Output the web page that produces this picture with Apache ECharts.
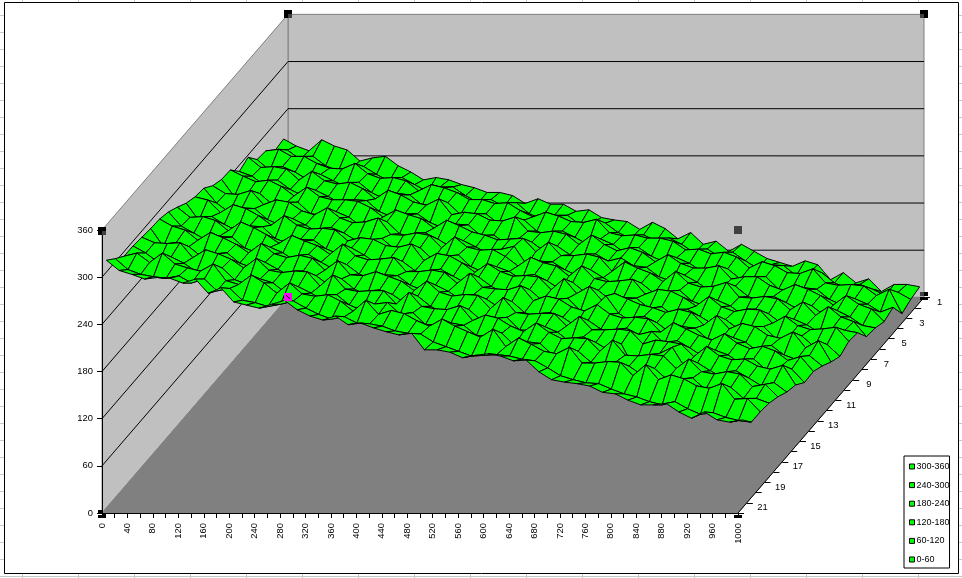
<!DOCTYPE html>
<html>
<head>
<meta charset="utf-8">
<style>html,body{margin:0;padding:0;background:#fff}#c{width:962px;height:578px}</style>
<script src="https://cdn.jsdelivr.net/npm/echarts@6/dist/echarts.min.js"></script>
</head>
<body>
<div id="c"></div>
<script>
const legendNames = ['300-360','240-300','180-240','120-180','60-120','0-60'];
const depthLabels = ['1','','3','','5','','7','','9','','11','','13','','15','','17','','19','','21'];
const xTickStep = 20, xLabelStep = 40, xMax = 1000;
const yStep = 60, yMax = 360;
const row01 = [208,199,193,207,199,194,180,184,186,174,166,156,159,156,150,146,140,140,136,126,132,125,125,116,118,108,105,103,93,102,94,81,89,74,78,65,74,65,56,51,46,53,48,29,38,25,30,14,23,23,20];
const row02 = [206,207,195,199,187,180,184,186,176,167,172,163,154,160,160,149,140,144,135,140,126,119,124,124,112,115,114,102,94,99,91,95,87,76,81,71,77,66,56,61,60,47,50,51,38,31,36,30,22,26,17];
const row03 = [219,221,212,212,203,197,196,203,190,184,185,181,168,176,172,166,157,157,152,153,143,135,141,136,129,128,132,115,111,112,108,108,104,93,94,88,90,84,70,78,73,64,63,69,51,48,49,47,35,43,12];
const row04 = [221,207,212,205,195,202,194,186,192,179,171,178,176,163,163,166,151,150,152,139,143,144,130,123,130,122,113,120,113,101,109,98,91,96,89,78,83,82,69,68,72,56,55,58,56,43,36,44,37,27,33];
const row05 = [237,224,225,222,208,219,207,203,205,197,184,195,189,180,176,184,164,167,165,157,156,161,143,141,143,139,126,138,126,118,122,116,104,113,102,96,96,99,82,85,85,74,68,75,69,61,49,61,50,44,28];
const row06 = [232,226,214,221,209,201,208,200,191,196,195,181,174,178,178,167,160,165,164,150,151,140,147,142,130,137,126,120,127,118,122,112,110,98,92,100,91,80,86,86,73,66,73,65,56,61,49,55,47,36,33];
const row07 = [247,239,232,234,226,214,225,213,209,209,207,199,187,196,190,185,173,183,176,168,164,158,159,160,143,155,138,138,140,136,118,130,122,116,105,118,103,98,99,104,85,84,86,83,69,79,62,73,60,54,35];
const row08 = [248,226,229,230,216,217,219,204,203,207,200,188,194,194,179,173,180,172,162,170,162,153,159,163,139,144,143,133,125,133,123,113,119,116,103,103,107,93,87,94,87,75,83,77,65,70,63,53,58,56,53];
const row09 = [253,243,242,247,229,235,232,221,216,225,212,206,207,212,191,190,193,190,174,188,175,171,172,163,151,162,155,151,138,151,135,131,132,134,115,121,119,111,100,112,99,93,96,95,78,87,75,70,71,73,55];
const row10 = [263,244,232,238,237,223,216,224,216,206,213,206,196,195,199,185,188,187,172,175,178,163,156,163,157,146,153,145,134,143,130,133,120,124,123,110,112,100,109,100,90,96,84,86,87,71,73,75,61,64,49];
const row11 = [265,261,245,255,250,241,229,241,229,224,225,223,209,213,211,203,201,205,184,193,190,181,169,180,170,164,165,163,147,161,142,151,133,142,135,128,124,118,122,118,102,114,97,104,100,89,85,93,73,82,55];
const row12 = [270,248,253,243,235,241,240,225,219,224,223,212,205,213,204,193,199,196,184,178,186,177,168,176,164,156,161,160,146,147,149,133,133,152,130,119,126,118,106,113,111,97,96,99,93,80,89,77,71,76,63];
const row13 = [278,265,266,261,248,259,252,243,232,242,235,229,218,231,216,211,212,214,196,196,198,195,181,194,176,174,173,178,159,165,161,151,146,154,142,137,138,136,119,131,123,115,109,117,105,98,101,95,83,88,69];
const row14 = [285,267,258,249,254,253,239,233,240,233,222,231,221,212,218,206,199,205,204,192,185,192,184,173,180,174,163,171,157,150,157,151,140,147,136,130,137,129,133,117,121,112,101,109,103,92,98,84,86,85,68];
const row15 = [289,280,275,262,272,265,257,246,258,245,240,243,239,224,236,218,217,222,216,210,198,210,196,191,193,192,175,189,170,168,169,169,153,165,148,148,149,147,130,135,133,130,114,127,115,110,111,102,98,103,78];
const row16 = [290,267,272,267,254,258,259,246,240,247,238,229,236,230,218,226,213,205,212,206,195,204,191,183,188,187,173,175,177,161,160,165,158,145,152,145,135,143,112,123,131,139,113,119,109,100,109,100,90,94,82];
const row17 = [292,285,284,285,266,276,271,264,253,265,250,247,249,248,230,244,226,223,224,224,207,222,204,201,200,205,186,193,189,179,172,183,171,163,164,163,147,161,142,141,143,141,125,137,121,118,121,118,102,105,89];
const row18 = [294,285,273,280,272,261,263,266,251,245,252,247,234,242,234,225,232,219,212,220,222,207,209,194,193,196,193,180,179,183,167,172,170,155,158,160,146,140,147,141,130,138,124,125,126,111,114,114,100,100,94];
const row19 = [294,298,286,298,284,279,275,284,263,258,270,260,247,260,246,243,245,237,224,238,220,225,221,212,205,214,205,198,191,201,179,190,182,173,170,178,158,158,160,159,142,156,137,143,138,129,126,132,112,113,96];
const row20 = [304,290,284,281,279,282,273,278,263,266,251,248,243,246,250,241,233,227,230,222,221,218,212,209,208,198,192,186,180,181,182,180,176,174,165,155,150,146,145,138,132,128,122,118,122,113,106,108,102,98,96];
const row21 = [315,302,297,291,293,292,286,291,273,280,262,258,254,259,264,252,244,239,244,233,235,229,224,220,222,201,201,198,191,194,196,193,187,188,173,163,160,158,155,147,145,137,131,131,133,122,114,122,112,109,112];
const heights = [row01,row02,row03,row04,row05,row06,row07,row08,row09,row10,row11,row12,row13,row14,row15,row16,row17,row18,row19,row20,row21];

const rowCount = heights.length, colCount = row01.length;
const depthX = 292.5, depthY = 274.3;              // oblique shift of the far side, in axis units
const project = (api, x, d, v) => api.coord([x + d * depthX, v + d * depthY]);
const rowDepth = r => (rowCount - 1 - r + 0.5) / rowCount;

const wallData = [
  {fill:'#C0C0C0', stroke:'#808080', pts:[[0,1,0],[0,1,yMax],[xMax,1,yMax],[xMax,1,0]]},
  {fill:'#C0C0C0', stroke:'#808080', pts:[[0,0,0],[0,0,yMax],[0,1,yMax],[0,1,0]]},
  {fill:'#808080', stroke:'#808080', pts:[[0,0,0],[xMax,0,0],[xMax,1,0],[0,1,0]]}
];
const gridValues = [];
for (let v = yStep; v < yMax; v += yStep) gridValues.push(v);

const quads = [];
for (let r = 0; r < rowCount - 1; r++) for (let c = 0; c < colCount - 1; c++) quads.push([c, r]);

const depthTicks = [];
for (let k = 0; k <= rowCount; k++) depthTicks.push(k);

const stubs = [];
for (let y = 15; y < 578; y += 17) {
  stubs.push({type:'line', silent:true, shape:{x1:0,y1:y+.5,x2:4,y2:y+.5}, style:{stroke:'#C8C8C8',lineWidth:1}});
  stubs.push({type:'line', silent:true, shape:{x1:959,y1:y+.5,x2:962,y2:y+.5}, style:{stroke:'#C8C8C8',lineWidth:1}});
}
for (let x = 22; x < 962; x += 56) {
  stubs.push({type:'line', silent:true, shape:{x1:x+.5,y1:0,x2:x+.5,y2:2}, style:{stroke:'#C8C8C8',lineWidth:1}});
  stubs.push({type:'line', silent:true, shape:{x1:x+.5,y1:574,x2:x+.5,y2:578}, style:{stroke:'#C8C8C8',lineWidth:1}});
}
stubs.push({type:'line', silent:true, shape:{x1:0,y1:576.5,x2:962,y2:576.5}, style:{stroke:'#C8C8C8',lineWidth:1}});
stubs.push({type:'rect', silent:true, shape:{x:4.5,y:2.5,width:954,height:571}, style:{fill:'transparent',stroke:'#000',lineWidth:1}});

// selection handles: box corner plus small square pieces [dx, dy, w, h, colour]
const K = '#000', G = '#404040', M = '#FF00FF';
const handles = [
  {x:0, d:1, v:yMax, pieces:[[-4,-4,8,8,K],[0,0,4,4,G]]},
  {x:xMax, d:1, v:yMax, pieces:[[-4,-4,8,8,K],[-4,0,4,4,G]]},
  {x:0, d:0, v:yMax, pieces:[[-4,-3,8,8,K],[0,1,4,4,G]]},
  {x:xMax, d:0, v:yMax, pieces:[[-4,-4,8,8,G]]},
  {x:0, d:0, v:0, pieces:[[-4,-3,4,4,K],[-4,2,8,3,K],[0,1,4,2,K]]},
  {x:xMax, d:0, v:0, pieces:[[-4,2,4,3,K],[1,2,3,3,K]]},
  {x:xMax, d:1, v:0, pieces:[[-4,-5,4,4,G],[0,-5,4,4,K],[-4,0,8,3,K]]},
  {x:0, d:1, v:0, pieces:[[-4,-4,8,8,M],[-2,-2,1,1,K],[-1,-1,1,1,K],[0,0,1,1,K],[1,1,1,1,K]]}
];

const fontFamily = '"Liberation Sans", Arial, sans-serif';
const font = '9.4px ' + fontFamily;
const chart = echarts.init(document.getElementById('c'), null, {renderer:'canvas'});
chart.setOption({
  animation:false,
  backgroundColor:'#fff',
  color:['#00FF00'],
  textStyle:{fontFamily:fontFamily},
  grid:{left:102, top:230, width:636, height:283, containLabel:false},
  graphic:{elements:stubs},
  legend:{
    orient:'vertical', left:904, top:456,
    padding:[6,0,4,5], itemGap:9.6, itemWidth:5, itemHeight:5, icon:'rect',
    backgroundColor:'#fff', borderColor:'#000', borderWidth:1, borderRadius:0,
    selectedMode:false,
    textStyle:{color:'#000', fontSize:9, fontFamily:fontFamily, padding:[0,0,0,-3]},
    itemStyle:{color:'#00FF00', borderColor:'#000', borderWidth:1},
    data:legendNames
  },
  xAxis:{
    type:'value', min:0, max:xMax, interval:xTickStep, z:3,
    axisLine:{show:true, onZero:false, lineStyle:{color:'#000', width:1}},
    axisTick:{show:true, length:5, lineStyle:{color:'#000', width:1}},
    axisLabel:{show:true, rotate:90, color:'#000', fontSize:9.4, margin:10, hideOverlap:false,
      formatter:v => (v % xLabelStep === 0 ? String(v) : '')},
    splitLine:{show:false}
  },
  yAxis:{
    type:'value', min:0, max:yMax, interval:yStep, z:3,
    axisLine:{show:true, onZero:false, lineStyle:{color:'#000', width:1}},
    axisTick:{show:true, length:5, lineStyle:{color:'#000', width:1}},
    axisLabel:{show:true, color:'#000', fontSize:9.4, margin:9},
    splitLine:{show:false}
  },
  series:[
    {
      type:'custom', name:'walls', coordinateSystem:'cartesian2d', clip:false, silent:true, z:1,
      data:wallData.map((w,i)=>[i,0]),
      renderItem:(p, api) => {
        const w = wallData[p.dataIndex];
        return {type:'polygon', shape:{points:w.pts.map(q=>project(api,q[0],q[1],q[2]))},
          style:{fill:w.fill, stroke:w.stroke, lineWidth:1}};
      }
    },
    {
      type:'custom', name:'grid', coordinateSystem:'cartesian2d', clip:false, silent:true, z:2,
      data:gridValues.map(v=>[0,v]),
      renderItem:(p, api) => {
        const v = gridValues[p.dataIndex];
        return {type:'polyline', shape:{points:[project(api,0,0,v),project(api,0,1,v),project(api,xMax,1,v)]},
          style:{fill:null, stroke:'#000', lineWidth:1}};
      }
    },
    {
      type:'custom', name:'surface', coordinateSystem:'cartesian2d', clip:false, silent:true, z:4, progressive:0,
      data:quads,
      renderItem:(p, api) => {
        const q = quads[p.dataIndex], c = q[0], r = q[1];
        const pt = (cc, rr) => project(api, cc * xTickStep, rowDepth(rr), heights[rr][cc]);
        return {type:'polygon', shape:{points:[pt(c,r),pt(c+1,r),pt(c+1,r+1),pt(c,r+1)]},
          style:{fill:'#00FF00', stroke:'#000', lineWidth:1}};
      }
    },
    {
      type:'custom', name:'depthEdge', coordinateSystem:'cartesian2d', clip:false, silent:true, z:3,
      data:[[0,0]],
      renderItem:(p, api) => {
        const a = project(api, xMax, 0, 0), b = project(api, xMax, 1, 0);
        return {type:'line', shape:{x1:a[0],y1:a[1],x2:b[0],y2:b[1]}, style:{stroke:'#000',lineWidth:1}};
      }
    },
    {
      type:'custom', name:'depthTicks', coordinateSystem:'cartesian2d', clip:false, silent:true, z:3,
      data:depthTicks.map(k=>[k,0]),
      renderItem:(p, api) => {
        const a = project(api, xMax, depthTicks[p.dataIndex] / rowCount, 0);
        const y = Math.round(a[1]) + .5;
        return {type:'line', shape:{x1:a[0],y1:y,x2:a[0]+6,y2:y}, style:{stroke:'#000',lineWidth:1}};
      }
    },
    {
      type:'custom', name:'depthLabels', coordinateSystem:'cartesian2d', clip:false, silent:true, z:3,
      data:depthLabels.map((t,i)=>[i,0]),
      renderItem:(p, api) => {
        const a = project(api, xMax, rowDepth(p.dataIndex), 0);
        return {type:'text', style:{text:depthLabels[p.dataIndex], x:a[0]+20, y:a[1], align:'center', verticalAlign:'middle', font:font, fill:'#000'}};
      }
    },
    {
      type:'custom', name:'handles', coordinateSystem:'cartesian2d', clip:false, silent:true, z:10,
      data:handles.map((h,i)=>[i,0]),
      renderItem:(p, api) => {
        const h = handles[p.dataIndex], a = project(api, h.x, h.d, h.v);
        const x = Math.round(a[0]), y = Math.round(a[1]);
        return {type:'group', children:h.pieces.map(q=>(
          {type:'rect', shape:{x:x+q[0],y:y+q[1],width:q[2],height:q[3]}, style:{fill:q[4]}}
        ))};
      }
    }
  ].concat(legendNames.map(n=>({type:'line', name:n, data:[], showSymbol:false, itemStyle:{color:'#00FF00'}})))
});
</script>
</body>
</html>
